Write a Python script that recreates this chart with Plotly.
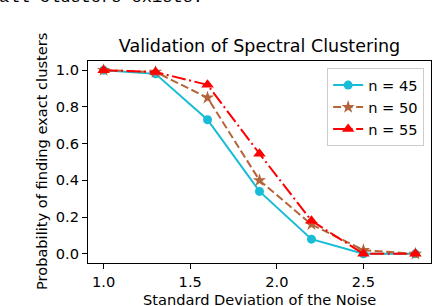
import plotly.graph_objects as go

noise_std = [1.0, 1.3, 1.6, 1.9, 2.2, 2.5, 2.8]
prob_n45 = [1.0, 0.98, 0.73, 0.34, 0.08, 0.0, 0.0]
prob_n50 = [1.0, 0.99, 0.85, 0.40, 0.16, 0.02, 0.0]
prob_n55 = [1.0, 0.99, 0.92, 0.545, 0.18, 0.0, 0.0]
series_names = ["n = 45", "n = 50", "n = 55"]
x_ticks = [1.0, 1.5, 2.0, 2.5]
y_ticks = [0.0, 0.2, 0.4, 0.6, 0.8, 1.0]

W, H = 432, 306
L, R, T, B = 88, 1, 61, 43
pw, ph = W - L - R, H - T - B
FS = 14.6

fig = go.Figure()
fig.add_trace(go.Scatter(x=noise_std, y=prob_n45, name=series_names[0], mode="lines+markers",
                         line=dict(color="#17bcd6", width=2, dash="solid"),
                         marker=dict(symbol="circle", size=9, color="#17bcd6")))
fig.add_trace(go.Scatter(x=noise_std, y=prob_n50, name=series_names[1], mode="lines+markers",
                         line=dict(color="#b5633a", width=2, dash="8px,3.5px"),
                         marker=dict(symbol="star", size=10, color="#b5633a")))
fig.add_trace(go.Scatter(x=noise_std, y=prob_n55, name=series_names[2], mode="lines+markers",
                         line=dict(color="#ff0000", width=2, dash="14px,3.5px,2px,3.5px"),
                         marker=dict(symbol="triangle-up", size=11, color="#ff0000")))

fig.update_layout(
    width=W, height=H,
    margin=dict(l=L, r=R, t=T, b=B, autoexpand=False),
    paper_bgcolor="white", plot_bgcolor="white",
    font=dict(family="DejaVu Sans", size=FS, color="black"),
    title=dict(text="Validation of Spectral Clustering", x=(L + pw / 2) / W, xanchor="center",
               y=1 - 46 / H, yanchor="middle", font=dict(size=17.5)),
    legend=dict(x=0.98, y=0.965, xanchor="right", yanchor="top",
                bgcolor="white", bordercolor="#cccccc", borderwidth=1,
                font=dict(size=FS), tracegroupgap=0),
    xaxis=dict(range=[0.91, 2.89], tickvals=x_ticks, ticktext=[f"{v:.1f}" for v in x_ticks],
               showgrid=False, zeroline=False, showline=True, linecolor="black", linewidth=1.3,
               mirror=True, ticks="outside", ticklen=5, tickcolor="black", automargin=False),
    yaxis=dict(range=[-0.05, 1.05], tickvals=y_ticks, ticktext=[f"{v:.1f}" for v in y_ticks],
               showgrid=False, zeroline=False, showline=True, linecolor="black", linewidth=1.3,
               mirror=True, ticks="outside", ticklen=5, tickcolor="black", automargin=False),
)

# axis titles
fig.add_annotation(text="Standard Deviation of the Noise", xref="paper", yref="paper",
                   x=0.5, y=-(299 - (T + ph)) / ph, xanchor="center", yanchor="middle",
                   showarrow=False, font=dict(size=FS))
fig.add_annotation(text="Probability of finding exact clusters", xref="paper", yref="paper",
                   x=(41 - L) / pw, y=0.5, xanchor="center", yanchor="middle", textangle=-90,
                   showarrow=False, font=dict(size=FS))

# cropped text from the page above the figure
fig.add_annotation(text="all clusters exists.", xref="paper", yref="paper",
                   x=(-3 - L) / pw, y=1 + (T - 9) / ph, xanchor="left", yanchor="bottom",
                   showarrow=False, font=dict(family="Liberation Mono", size=17, color="black"))

fig.write_html("out.html", config={"displayModeBar": False},
               post_script="document.body.style.margin='0';")
